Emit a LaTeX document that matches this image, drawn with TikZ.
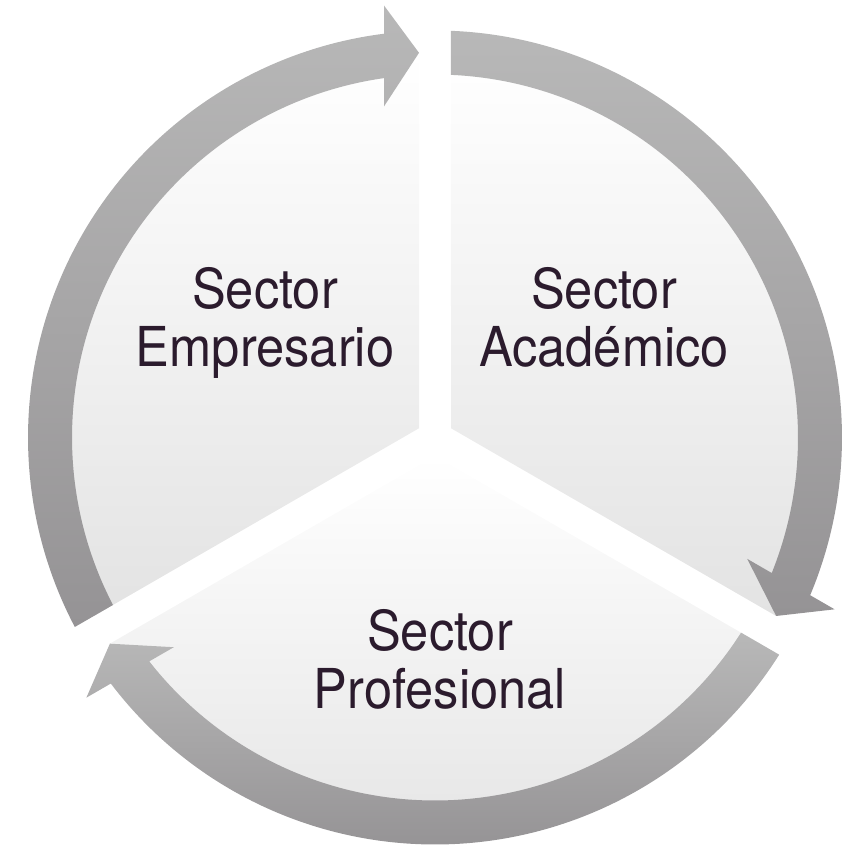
\documentclass[tikz,border=0pt]{standalone}
\usepackage{fontspec}
\newfontfamily\lblfont{TeX Gyre Heros}[FakeStretch=0.92]
\usetikzlibrary{calc}
\definecolor{ringtop}{HTML}{B8B8B8}
\definecolor{ringbot}{HTML}{959395}
\definecolor{secbot}{HTML}{E3E3E3}
\definecolor{txtcol}{HTML}{2B1B2D}
\begin{document}
\begin{tikzpicture}[x=1pt,y=1pt,
  arrowfill/.style={top color=ringtop, bottom color=ringbot, draw=none},
  sectorfill/.style={top color=white, middle color=white, bottom color=secbot, draw=none},
  lbl/.style={font=\lblfont\fontsize{55}{58}\selectfont, text=txtcol, align=center, inner sep=0pt}]
\useasboundingbox (0,0) rectangle (854,844);
\coordinate (C) at (435,406.5);
\def\rin{363}\def\rout{407}\def\rmid{385}\def\g{16}\def\hb{51}\def\hw{28}
% pie sectors
\foreach \ta in {90,330,210}{
  \pgfmathsetmacro\tb{\ta-120}
  \pgfmathsetmacro\bis{\ta-60}
  \pgfmathsetmacro\apex{\g/sin(60)}
  \pgfmathsetmacro\sA{\ta-asin(\g/\rmid)}
  \pgfmathsetmacro\sB{\tb+asin(\g/\rmid)}
  \coordinate (apex) at ($(C)+(\bis:\apex)$);
  \coordinate (s1) at ($(C)+(\sA:\rmid)$);
  \path[sectorfill] (apex) -- (s1) arc[start angle=\sA, end angle=\sB, radius=\rmid] -- cycle;
}
% ring arrows
\foreach \ta in {90,330,210}{
  \pgfmathsetmacro\tb{\ta-120}
  \pgfmathsetmacro\aOutS{\ta-asin(\g/\rout)}
  \pgfmathsetmacro\aOutE{\tb+asin(\hb/\rout)}
  \pgfmathsetmacro\aInS{\tb+asin(\hb/\rin)}
  \pgfmathsetmacro\aInE{\ta-asin(\g/\rin)}
  \pgfmathsetmacro\tOb{100*sqrt(((\rout+\hw)/100)^2-(\hb/100)^2)}
  \pgfmathsetmacro\tIb{100*sqrt(((\rin-\hw)/100)^2-(\hb/100)^2)}
  \pgfmathsetmacro\tTip{100*sqrt((\rmid/100)^2-(\g/100)^2)}
  \pgfmathsetmacro\tn{\tb+90}
  \coordinate (p0) at ($(C)+(\aOutS:\rout)$);
  \coordinate (ob) at ($(C)+(\tb:\tOb)+(\tn:\hb)$);
  \coordinate (tip) at ($(C)+(\tb:\tTip)+(\tn:\g)$);
  \coordinate (ib) at ($(C)+(\tb:\tIb)+(\tn:\hb)$);
  \coordinate (p1) at ($(C)+(\aInS:\rin)$);
  \path[arrowfill] (p0) arc[start angle=\aOutS, end angle=\aOutE, radius=\rout]
     -- (ob) -- (tip) -- (ib) -- (p1)
     arc[start angle=\aInS, end angle=\aInE, radius=\rin] -- cycle;
}
% labels (anchor=base is the baseline of the last line)
\node[lbl, anchor=base] (emp) at (265,477) {Sector\\Empresario};
\node[lbl, anchor=base] (aca) at (604,477) {Sector\\Académico};
\node[lbl, anchor=base] (pro) at (440,136) {Sector\\Profesional};
\end{tikzpicture}
\end{document}
